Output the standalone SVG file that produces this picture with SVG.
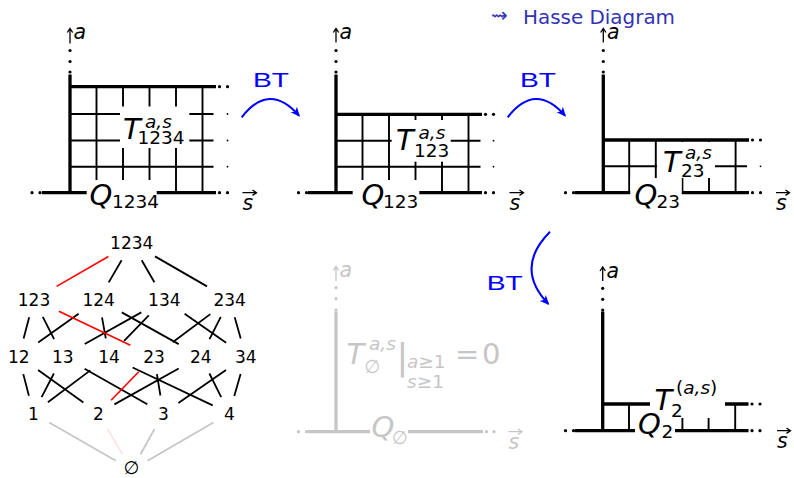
<svg xmlns="http://www.w3.org/2000/svg" width="794" height="478" viewBox="0 0 794 478">
<defs>
<style>
.k{stroke:#000;stroke-width:3.3;fill:none}
.t{stroke:#000;stroke-width:1.9;fill:none}
.d{fill:#000}
.ax{stroke:#000;stroke-width:1.3;fill:none}
.g .k,.g .t,.g .ax{stroke:#c6c6c6}
.g .d{fill:#c6c6c6}
.g text{fill:#c6c6c6}
.w{fill:#fff}
.m{font-family:"DejaVu Sans",sans-serif;font-style:italic;font-size:29px;fill:#000}
.sb{font-family:"DejaVu Sans",sans-serif;font-style:italic;font-size:18.5px;fill:#000}
.al{font-family:"DejaVu Sans",sans-serif;font-style:italic;font-size:20.5px;fill:#000}
.up{font-style:normal}
.h{font-family:"DejaVu Sans",sans-serif;font-size:17px;text-anchor:middle;fill:#000}
.e{stroke:#000;stroke-width:1.8;fill:none}
.r{stroke:#f00;stroke-width:1.6}
.gy{stroke:#c6c6c6}
.pk{stroke:#fde4e4}
.bt{font-family:"Liberation Sans",Arial,sans-serif;font-size:21px;fill:#00f}
.ba{stroke:#00f;stroke-width:2;fill:none;marker-end:url(#ab)}
</style>
<marker id="ab" viewBox="-9 -5 11 10" refX="0" refY="0" markerWidth="11" markerHeight="10" markerUnits="userSpaceOnUse" orient="auto">
<path d="M1.5,0 L-8,-4.2 L-5.5,0 L-8,4.2 Z" fill="#00f"/>
</marker>
</defs>
<rect width="794" height="478" fill="#fff"/>

<!-- Panel T1234 -->
<g id="panel-1234">
<g class="t">
<path d="M70,114H213.5M70,140.5H213.5M70,166.7H213.5"/>
<path d="M96.5,86.7V192.7M123,86.7V192.7M149.5,86.7V192.7M176,86.7V192.7M202.5,86.7V192.7"/>
</g>
<path class="k" d="M70,74.5V194.3M70,86.7H216M42,192.7H216"/>
<g class="d">
<circle cx="70" cy="50.5" r="1.6"/><circle cx="70" cy="61.5" r="1.6"/><circle cx="70" cy="72" r="1.6"/>
<circle cx="219.5" cy="86.7" r="1.6"/><circle cx="227.5" cy="86.7" r="1.6"/>
<circle cx="219.5" cy="192.7" r="1.6"/><circle cx="227.5" cy="192.7" r="1.6"/>
<circle cx="32" cy="192.7" r="1.6"/><circle cx="40" cy="192.7" r="1.6"/>
<circle cx="227.5" cy="114" r="0.9"/><circle cx="227.5" cy="140.5" r="0.9"/><circle cx="227.5" cy="166.7" r="0.9"/>
</g>
<rect class="w" x="120" y="106.5" width="69.3" height="41.5"/>
<rect class="w" x="86.7" y="180" width="70" height="27"/>
<text class="m" x="123" y="138.5">T</text>
<text class="sb" x="145" y="127.5">a,s</text>
<text class="sb up" x="137.5" y="144">1234</text>
<text class="m" x="89.5" y="204.5">Q</text>
<text class="sb up" x="112" y="207.5">1234</text>
<path class="ax" d="M70,43.5V29M67.3,32.5L70,28.5L72.7,32.5"/>
<text class="al" x="73.5" y="38.5">a</text>
<path class="ax" d="M242.5,192.7H256M252.5,190L256.5,192.7L252.5,195.4"/>
<text class="al" x="242.5" y="210">s</text>
</g>

<!-- Panel T123 -->
<g id="panel-123">
<g class="t">
<path d="M336,140.7H480.5M336,166.7H480.5"/>
<path d="M362.5,114.3V192.7M389,114.3V192.7M415.5,114.3V192.7M442,114.3V192.7M468.5,114.3V192.7"/>
</g>
<path class="k" d="M336,74.5V194.3M336,114.3H482M308,192.7H482"/>
<g class="d">
<circle cx="336" cy="50.5" r="1.6"/><circle cx="336" cy="61.5" r="1.6"/><circle cx="336" cy="72" r="1.6"/>
<circle cx="485.5" cy="114.3" r="1.6"/><circle cx="493.5" cy="114.3" r="1.6"/>
<circle cx="485.5" cy="192.7" r="1.6"/><circle cx="493.5" cy="192.7" r="1.6"/>
<circle cx="298.5" cy="192.7" r="1.6"/><circle cx="306.5" cy="192.7" r="1.6"/>
<circle cx="493.5" cy="140.7" r="0.9"/><circle cx="493.5" cy="166.7" r="0.9"/>
</g>
<rect class="w" x="391.7" y="120" width="59" height="41.7"/>
<rect class="w" x="352.7" y="180" width="66.6" height="27"/>
<text class="m" x="396" y="150">T</text>
<text class="sb" x="418.5" y="138.5">a,s</text>
<text class="sb up" x="414" y="157">123</text>
<text class="m" x="361.5" y="204.5">Q</text>
<text class="sb up" x="383" y="207.5">123</text>
<path class="ax" d="M336,42.5V29M333.3,32.5L336,28.5L338.7,32.5"/>
<text class="al" x="339.5" y="38.5">a</text>
<path class="ax" d="M509.5,192.7H523M519.5,190L523.5,192.7L519.5,195.4"/>
<text class="al" x="509.5" y="210">s</text>
</g>

<!-- Panel T23 -->
<g id="panel-23">
<g class="t">
<path d="M603.3,166.3H747"/>
<path d="M629.2,140V192.7M655.8,140V192.7M682.4,140V192.7M709,140V192.7M735.6,140V192.7"/>
</g>
<path class="k" d="M603.3,74.5V194.3M603.3,140H749M575,192.7H749"/>
<g class="d">
<circle cx="603.3" cy="50.5" r="1.6"/><circle cx="603.3" cy="61.5" r="1.6"/><circle cx="603.3" cy="72" r="1.6"/>
<circle cx="752.5" cy="140" r="1.6"/><circle cx="760.5" cy="140" r="1.6"/>
<circle cx="752.5" cy="192.7" r="1.6"/><circle cx="760.5" cy="192.7" r="1.6"/>
<circle cx="565.5" cy="192.7" r="1.6"/><circle cx="573.5" cy="192.7" r="1.6"/>
<circle cx="760.5" cy="166.3" r="0.9"/>
</g>
<rect class="w" x="657" y="142" width="58" height="36"/>
<rect class="w" x="630.3" y="178" width="51.4" height="30"/>
<text class="m" x="663" y="172">T</text>
<text class="sb" x="685" y="159">a,s</text>
<text class="sb up" x="681" y="177">23</text>
<text class="m" x="634.5" y="204.5">Q</text>
<text class="sb up" x="656.5" y="207.5">23</text>
<path class="ax" d="M603.3,42.5V29M600.6,32.5L603.3,28.5L606,32.5"/>
<text class="al" x="607" y="38.5">a</text>
<path class="ax" d="M776,192.7H789.5M785.5,190L789.5,192.7L785.5,195.4"/>
<text class="al" x="776" y="210">s</text>
</g>

<!-- Panel T2 -->
<g id="panel-2">
<path class="t" d="M629,404V430.7M682.4,404V430.7M708.6,404V430.7M735.2,404V430.7"/>
<path class="k" d="M602.7,311.5V432.3M602.7,404H650M725,404H748.5M575,430.7H748.5"/>
<g class="d">
<circle cx="602.7" cy="288.3" r="1.6"/><circle cx="602.7" cy="299.3" r="1.6"/><circle cx="602.7" cy="310" r="1.6"/>
<circle cx="752" cy="404" r="1.6"/><circle cx="760" cy="404" r="1.6"/>
<circle cx="752" cy="430.7" r="1.6"/><circle cx="760" cy="430.7" r="1.6"/>
<circle cx="565.5" cy="430.7" r="1.6"/><circle cx="573.5" cy="430.7" r="1.6"/>
</g>
<rect class="w" x="650" y="378" width="75" height="40"/>
<rect class="w" x="635" y="418" width="40" height="28"/>
<text class="m" x="654.5" y="410">T</text>
<text class="sb up" x="671" y="417">2</text>
<text class="sb" x="676" y="393.5"><tspan class="up">(</tspan>a,s<tspan class="up">)</tspan></text>
<text class="m" x="638" y="434">Q</text>
<text class="sb up" x="661.5" y="438">2</text>
<path class="ax" d="M602.7,281V267.5M600,271L602.7,267L605.4,271"/>
<text class="al" x="606.5" y="277.5">a</text>
<path class="ax" d="M777,430.7H790.5M786.5,428L790.5,430.7L786.5,433.4"/>
<text class="al" x="777" y="448">s</text>
</g>

<!-- Grey panel T_empty -->
<g id="panel-empty" class="g">
<path class="k" d="M336,311.5V433.3M308,431.7H483"/>
<g class="d">
<circle cx="336" cy="287.7" r="1.6"/><circle cx="336" cy="298.7" r="1.6"/><circle cx="336" cy="310" r="1.6"/>
<circle cx="486.5" cy="431.7" r="1.6"/><circle cx="494" cy="431.7" r="1.6"/>
<circle cx="298.5" cy="431.7" r="1.6"/><circle cx="306.5" cy="431.7" r="1.6"/>
</g>
<rect class="w" x="370" y="418" width="38" height="28"/>
<text class="m" x="346.5" y="364">T</text>
<text class="sb" x="369" y="350">a,s</text>
<text class="sb up" x="364.5" y="373">∅</text>
<text class="m up" x="396.5" y="368.5" style="font-size:35px">|</text>
<text class="sb" x="407" y="367.5">a<tspan class="up">≥1</tspan></text>
<text class="sb" x="407" y="387.5">s<tspan class="up">≥1</tspan></text>
<text class="m up" x="455" y="363.5">=</text>
<text class="m up" x="482" y="363.5">0</text>
<text class="m" x="371.5" y="437">Q</text>
<text class="sb up" x="392" y="444">∅</text>
<path class="ax" d="M336,281V267M333.3,270.5L336,266.5L338.7,270.5"/>
<text class="al" x="339.5" y="277">a</text>
<path class="ax" d="M508.5,431.7H522M518,429L522,431.7L518,434.4"/>
<text class="al" x="508.5" y="449">s</text>
</g>

<!-- Hasse diagram label -->
<g id="hasse-title" font-family="DejaVu Sans, sans-serif" font-size="20" fill="#3333b3">
<text x="491" y="22">⇝</text>
<text x="523" y="23.5" textLength="152" lengthAdjust="spacingAndGlyphs">Hasse Diagram</text>
</g>

<!-- Connectors -->
<g id="connectors">
<g class="e">
<path d="M121.6,260.2L108.7,282.4M141.7,260.3L154.4,282.3M155,256.4L207,286.4"/>
<path d="M29.2,317.3L23.6,338.5M42.8,316.9L54.1,339.1M78.6,313.8L38.2,342.5M102,317.4L105.8,338.4M121.8,312.4L178.7,344.1M141.3,312.4L84.7,344M148.8,315.4L124.1,340.8M184.6,313.7L226.1,342.7M210.3,314.1L172.7,342.2M220.8,316.8L209.5,339.1M234.7,317.3L240.7,338.6"/>
<path d="M23.3,374.1L28.9,395.8M38.1,370.1L83.4,402.6M53.9,373.5L41.6,397.2M84.6,368.7L147.3,404.2M90.3,370.4L47.9,402.3M132.6,367.5L212.7,405.4M156.9,374.2L160.4,395.5M178.7,368.5L114.4,404.4M209.4,373.5L221.2,397.1M226,369.9L178.4,402.9M240.6,374L234.3,396"/>
<path class="gy" d="M49.2,422.5L115.8,460.8M154.5,429.1L140.5,454.2M213.4,422.5L147.6,460.8"/>
<path class="pk" d="M107.5,428.9L122.5,454.4"/>
<path class="r" d="M108.4,256.5L56.6,286.4M58.9,311.3L130.4,345.2M138.8,371.8L111.1,400.3"/>
</g>
<path class="ba" d="M241.7,117.3Q269.2,81.6 299,115.6"/>
<path class="ba" d="M507.7,117.3Q535.2,81.6 565,115.6"/>
<path class="ba" d="M550,231.7Q513.9,268 548.3,303.8"/>
<text class="bt" x="253" y="86.7" textLength="36" lengthAdjust="spacingAndGlyphs">BT</text>
<text class="bt" x="520" y="86.7" textLength="36" lengthAdjust="spacingAndGlyphs">BT</text>
<text class="bt" x="486.7" y="290" textLength="36" lengthAdjust="spacingAndGlyphs">BT</text>
</g>

<!-- Hasse nodes -->
<g id="n1234"><text class="h" x="131.7" y="249.2">1234</text></g>
<g id="n123"><text class="h" x="34" y="305.7">123</text></g>
<g id="n124"><text class="h" x="98.7" y="305.7">124</text></g>
<g id="n134"><text class="h" x="164.3" y="305.7">134</text></g>
<g id="n234"><text class="h" x="229.7" y="305.7">234</text></g>
<g id="n12"><text class="h" x="18.8" y="362.5">12</text></g>
<g id="n13"><text class="h" x="62.8" y="362.5">13</text></g>
<g id="n14"><text class="h" x="109" y="362.5">14</text></g>
<g id="n23"><text class="h" x="154" y="362.5">23</text></g>
<g id="n24"><text class="h" x="200.7" y="362.5">24</text></g>
<g id="n34"><text class="h" x="245.7" y="362.5">34</text></g>
<g id="n1"><text class="h" x="33.3" y="419.5">1</text></g>
<g id="n2"><text class="h" x="98.3" y="419.5">2</text></g>
<g id="n3"><text class="h" x="163.3" y="419.5">3</text></g>
<g id="n4"><text class="h" x="229.3" y="419.5">4</text></g>
<g id="nempty"><text class="h" x="131.7" y="473.5" fill="#c6c6c6" style="font-size:18px">∅</text></g>
</svg>
